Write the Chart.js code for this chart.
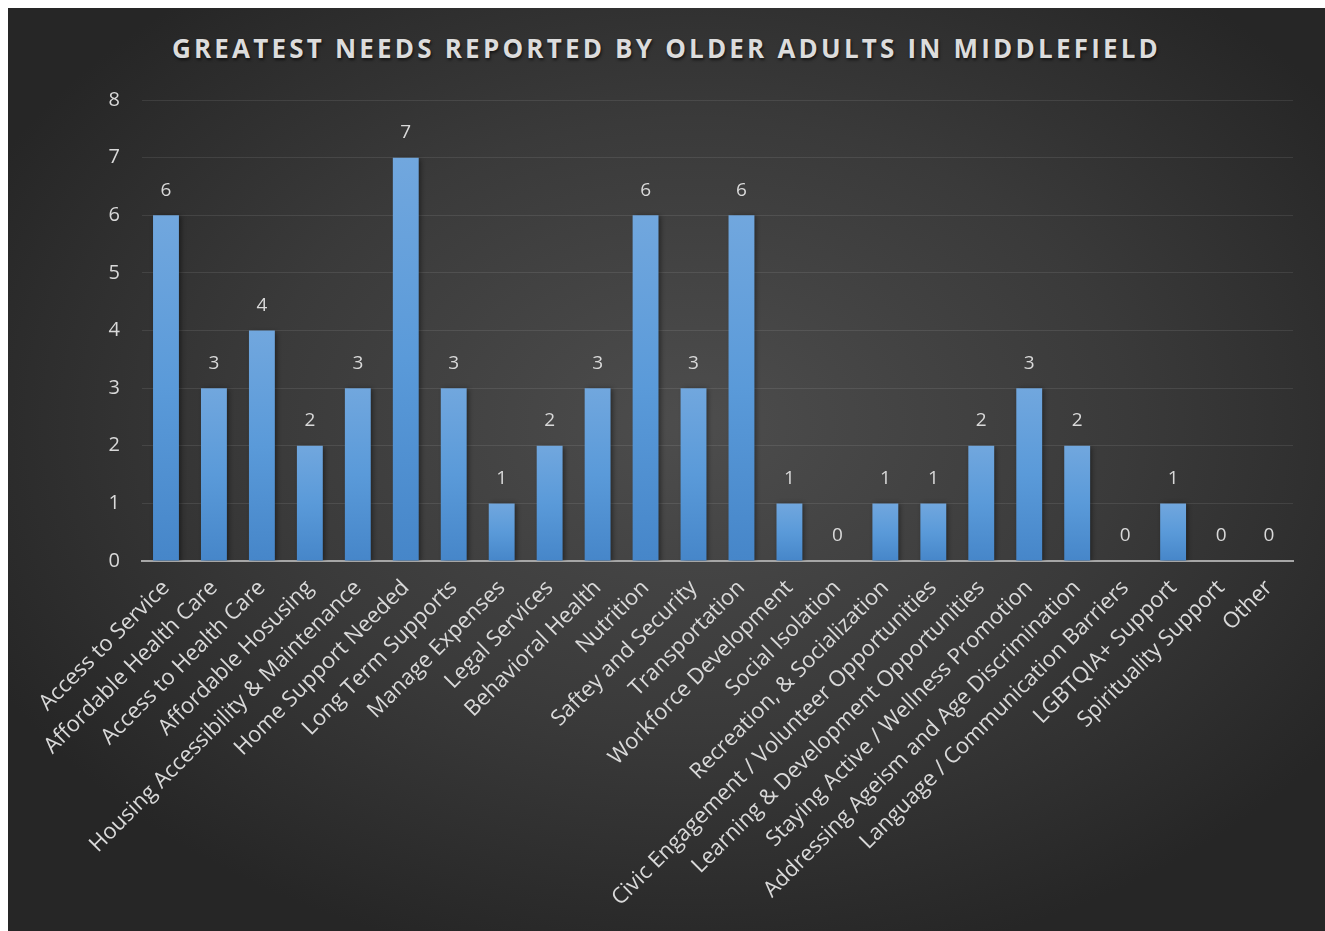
<!DOCTYPE html>
<html>
<head>
<meta charset="utf-8">
<script src="https://cdn.jsdelivr.net/npm/chart.js@4.4.1/dist/chart.umd.min.js"></script>
<style>
  html, body { margin: 0; padding: 0; background: #fff; overflow: hidden; }
  #panel {
    position: absolute; left: 8px; top: 8px; width: 1317px; height: 923px;
    background: radial-gradient(ellipse 60% 60% at 52% 45%, #4d4d4d 0%, #3a3a3a 55%, #262626 100%);
  }
  #title {
    position: absolute; left: 0; top: 22px; width: 100%; text-align: center;
    font: bold 26px "Open Sans", sans-serif; letter-spacing: 3.2px; color: #dcdcdc;
    text-shadow: 1px 2px 3px rgba(0,0,0,0.6);
  }
  #wrap { position: absolute; left: 0; top: 0; width: 1317px; height: 923px; }
</style>
</head>
<body>
<div id="panel">
  <div id="title">GREATEST NEEDS REPORTED BY OLDER ADULTS IN MIDDLEFIELD</div>
  <div id="wrap"><canvas id="needsChart"></canvas></div>
</div>
<script>
// Categories and responses
const categories = [
  'Access to Service', 'Affordable Health Care', 'Access to Health Care', 'Affordable Hosusing',
  'Housing Accessibility & Maintenance', 'Home Support Needed', 'Long Term Supports', 'Manage Expenses',
  'Legal Services', 'Behavioral Health', 'Nutrition', 'Saftey and Security', 'Transportation',
  'Workforce Development', 'Social Isolation', 'Recreation, & Socialization',
  'Civic Engagement / Volunteer Opportunities', 'Learning & Development Opportunities',
  'Staying Active / Wellness Promotion', 'Addressing Ageism and Age Discrimination',
  'Language / Communication Barriers', 'LGBTQIA+ Support', 'Spirituality Support', 'Other'
];
const responses = [6, 3, 4, 2, 3, 7, 3, 1, 2, 3, 6, 3, 6, 1, 0, 1, 1, 2, 3, 2, 0, 1, 0, 0];
const yTicks = [0, 1, 2, 3, 4, 5, 6, 7, 8];

const textColor = '#d9d9d9';
const fontFamily = '"Open Sans", "Liberation Sans", sans-serif';

// per-bar vertical gradient, lighter at the top
function barGradient(context) {
  const chart = context.chart;
  const { ctx, chartArea, scales } = chart;
  if (!chartArea) return '#5b9bd5';
  const v = context.raw || 0;
  const top = scales.y.getPixelForValue(v);
  const bottom = scales.y.getPixelForValue(0);
  if (bottom - top < 1) return '#5b9bd5';
  const g = ctx.createLinearGradient(0, top, 0, bottom);
  g.addColorStop(0, '#71a7de');
  g.addColorStop(0.5, '#5a9ad9');
  g.addColorStop(1, '#4686c9');
  return g;
}

// value labels above bars (no datalabels plugin available offline)
const valueLabels = {
  id: 'valueLabels',
  afterDatasetsDraw(chart) {
    const { ctx } = chart;
    const meta = chart.getDatasetMeta(0);
    ctx.save();
    ctx.fillStyle = textColor;
    ctx.font = `19px ${fontFamily}`;
    ctx.textAlign = 'center';
    ctx.textBaseline = 'middle';
    meta.data.forEach((bar, i) => {
      ctx.fillText(String(responses[i]), bar.x, bar.y - 25);
    });
    ctx.restore();
  }
};

// soft shadow behind bars
const barShadow = {
  id: 'barShadow',
  beforeDatasetsDraw(chart) {
    const ctx = chart.ctx;
    ctx.save();
    ctx.shadowColor = 'rgba(0,0,0,0.45)';
    ctx.shadowBlur = 5;
    ctx.shadowOffsetX = 2;
    ctx.shadowOffsetY = 1;
  },
  afterDatasetsDraw(chart) {
    chart.ctx.restore();
  }
};

new Chart(document.getElementById('needsChart'), {
  type: 'bar',
  data: {
    labels: categories,
    datasets: [{
      label: 'Responses',
      data: responses,
      backgroundColor: barGradient,
      categoryPercentage: 1,
      barPercentage: 0.54
    }]
  },
  options: {
    responsive: true,
    maintainAspectRatio: false,
    animation: false,
    layout: { padding: { left: 84, right: 32, top: 92, bottom: 0 } },
    scales: {
      y: {
        min: 0, max: 8,
        afterBuildTicks(scale) { scale.ticks = yTicks.map(v => ({ value: v })); },
        afterFit(scale) { scale.width = 50; },
        ticks: { color: textColor, font: { family: fontFamily, size: 20 }, padding: 22 },
        grid: { color: 'rgba(255,255,255,0.09)', lineWidth: 1, drawTicks: false },
        border: { display: false }
      },
      x: {
        afterFit(scale) { scale.height = 370; },
        ticks: {
          color: textColor, font: { family: fontFamily, size: 22 },
          maxRotation: 45, minRotation: 45, autoSkip: false, padding: 6
        },
        grid: { display: false },
        border: { color: '#a6a6a6', width: 2 }
      }
    },
    plugins: {
      legend: { display: false },
      tooltip: { enabled: false }
    }
  },
  plugins: [barShadow, valueLabels]
});
</script>
</body>
</html>
